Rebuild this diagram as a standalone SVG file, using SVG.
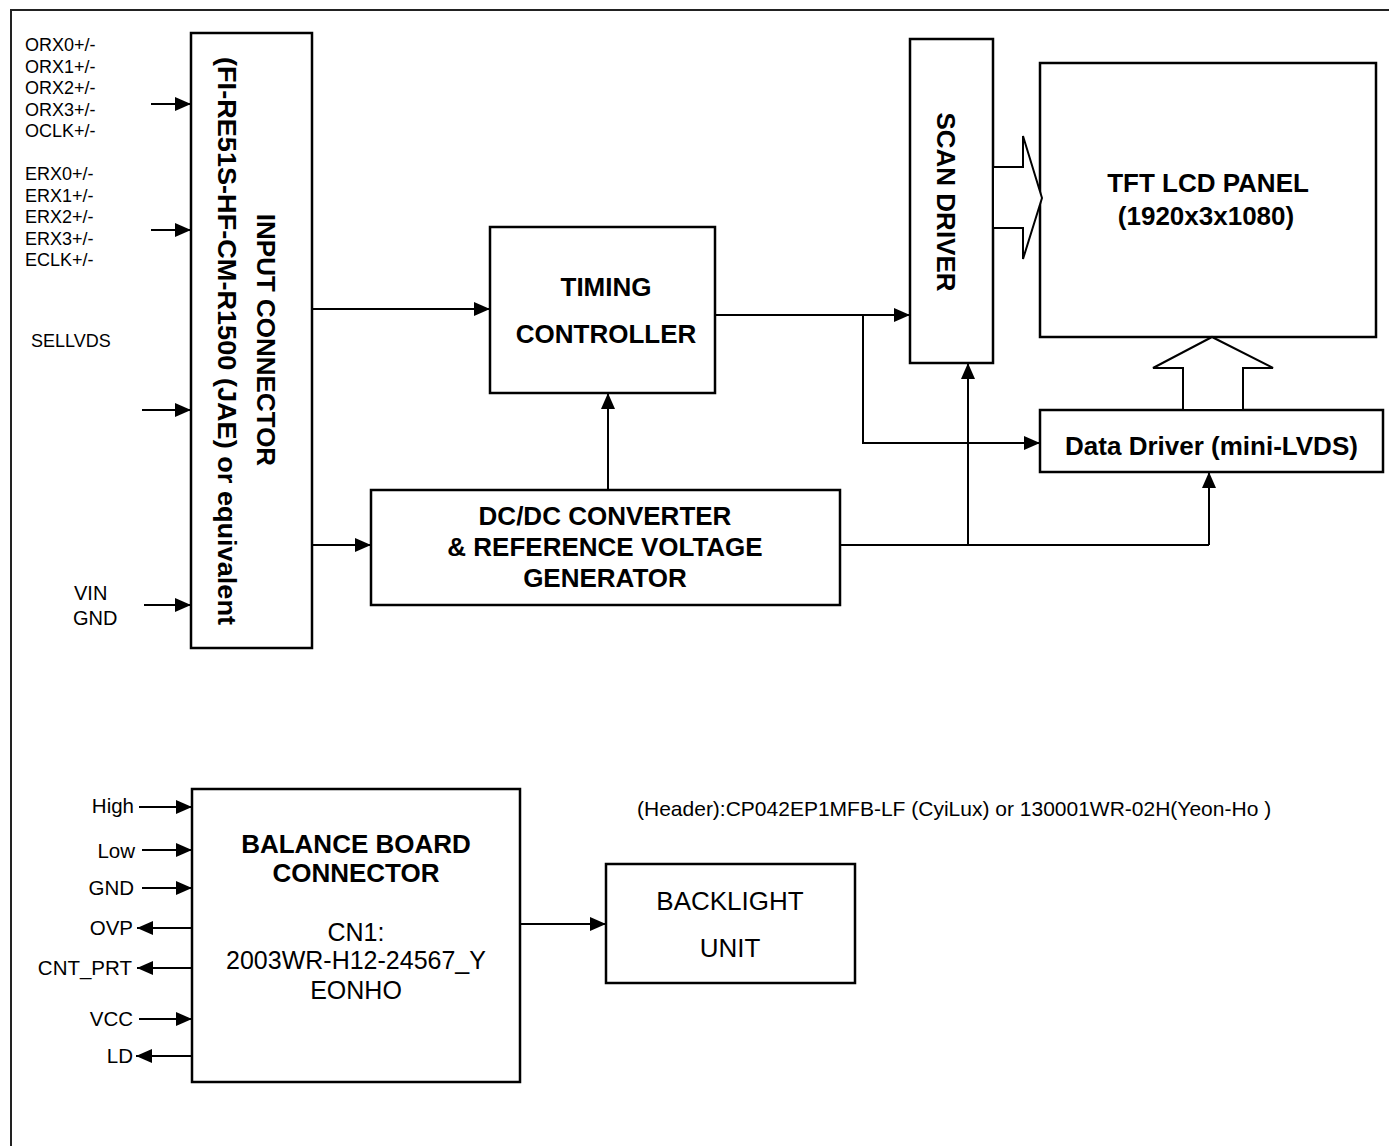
<svg xmlns="http://www.w3.org/2000/svg" width="1389" height="1146" viewBox="0 0 1389 1146">
<defs>
<marker id="ah" viewBox="0 0 16 14" refX="16" refY="7" markerWidth="16" markerHeight="14" orient="auto" markerUnits="userSpaceOnUse"><path d="M0,0 L16,7 L0,14 z" fill="#000"/></marker>
</defs>
<style>
.box{fill:#fff;stroke:#000;stroke-width:2.5}
.hollow{fill:#fff;stroke:#000;stroke-width:2}
.ln{fill:none;stroke:#000;stroke-width:2}
.ar{fill:none;stroke:#000;stroke-width:2;marker-end:url(#ah)}
.b{font-family:"Liberation Sans",Arial,Helvetica,sans-serif;font-weight:bold;font-size:26px;fill:#000}
.r{font-family:"Liberation Sans",Arial,Helvetica,sans-serif;font-size:26px;fill:#000}
.s{font-family:"Liberation Sans",Arial,Helvetica,sans-serif;font-size:18px;fill:#000}
.m{font-family:"Liberation Sans",Arial,Helvetica,sans-serif;font-size:20.5px;fill:#000}
.c{text-anchor:middle}
.e{text-anchor:end}
</style>
<rect width="1389" height="1146" fill="#fff"/>
<path d="M11,1146 V10 H1389" fill="none" stroke="#222" stroke-width="2"/>

<g id="input-labels">
<text class="s" x="25" y="51">ORX0+/-</text>
<text class="s" x="25" y="72.5">ORX1+/-</text>
<text class="s" x="25" y="94">ORX2+/-</text>
<text class="s" x="25" y="115.5">ORX3+/-</text>
<text class="s" x="25" y="137">OCLK+/-</text>
<text class="s" x="25" y="180">ERX0+/-</text>
<text class="s" x="25" y="201.5">ERX1+/-</text>
<text class="s" x="25" y="223">ERX2+/-</text>
<text class="s" x="25" y="244.5">ERX3+/-</text>
<text class="s" x="25" y="266">ECLK+/-</text>
<text class="s" x="31" y="347">SELLVDS</text>
<text class="m" x="74" y="600" style="font-size:20px">VIN</text>
<text class="m" x="73" y="625" style="font-size:20px">GND</text>
</g>

<g id="input-connector">
<rect class="box" x="191" y="33" width="121" height="615"/>
<text class="b c" transform="translate(257,340) rotate(90)">INPUT CONNECTOR</text>
<text class="b c" transform="translate(218,341) rotate(90)" textLength="568" lengthAdjust="spacingAndGlyphs">(FI-RE51S-HF-CM-R1500 (JAE) or equivalent</text>
</g>

<g id="timing-controller">
<rect class="box" x="490" y="227" width="225" height="166"/>
<text class="b c" x="606" y="296">TIMING</text>
<text class="b c" x="606" y="343">CONTROLLER</text>
</g>

<g id="dcdc-converter">
<rect class="box" x="371" y="490" width="469" height="115"/>
<text class="b c" x="605" y="525">DC/DC CONVERTER</text>
<text class="b c" x="605" y="556">&amp; REFERENCE VOLTAGE</text>
<text class="b c" x="605" y="587">GENERATOR</text>
</g>

<g id="scan-driver">
<rect class="box" x="910" y="39" width="83" height="324"/>
<text class="b c" transform="translate(937,202) rotate(90)">SCAN DRIVER</text>
</g>

<g id="tft-panel">
<rect class="box" x="1040" y="63" width="336" height="274"/>
<text class="b c" x="1208" y="192">TFT LCD PANEL</text>
<text class="b c" x="1206" y="225">(1920x3x1080)</text>
</g>

<g id="data-driver">
<rect class="box" x="1040" y="410" width="343" height="62"/>
<text class="b c" x="1211.5" y="455">Data Driver (mini-LVDS)</text>
</g>

<g id="balance-board">
<rect class="box" x="192" y="789" width="328" height="293"/>
<text class="b c" x="356" y="853">BALANCE BOARD</text>
<text class="b c" x="356" y="882">CONNECTOR</text>
<text class="r c" x="356" y="941" style="font-size:25px">CN1:</text>
<text class="r c" x="356" y="969" style="font-size:25px">2003WR-H12-24567_Y</text>
<text class="r c" x="356" y="999" style="font-size:25px">EONHO</text>
</g>

<g id="backlight-unit">
<rect class="box" x="606" y="864" width="249" height="119"/>
<text class="r c" x="730" y="910">BACKLIGHT</text>
<text class="r c" x="730" y="957">UNIT</text>
</g>

<g id="header-note">
<text class="m" x="637" y="816" style="font-size:21px">(Header):CP042EP1MFB-LF (CyiLux) or 130001WR-02H(Yeon-Ho )</text>
</g>

<g id="balance-labels">
<text class="m e" x="134" y="813">High</text>
<text class="m e" x="135" y="858">Low</text>
<text class="m e" x="134" y="895">GND</text>
<text class="m e" x="133" y="935">OVP</text>
<text class="m e" x="132" y="975">CNT_PRT</text>
<text class="m e" x="133" y="1026">VCC</text>
<text class="m e" x="133" y="1063">LD</text>
</g>

<g id="connectors">
<line class="ar" x1="151" y1="104" x2="191" y2="104"/>
<line class="ar" x1="151" y1="230" x2="191" y2="230"/>
<line class="ar" x1="142" y1="410" x2="191" y2="410"/>
<line class="ar" x1="144" y1="605" x2="191" y2="605"/>
<line class="ar" x1="312" y1="309" x2="490" y2="309"/>
<line class="ar" x1="312" y1="545" x2="371" y2="545"/>
<line class="ar" x1="608" y1="490" x2="608" y2="393"/>
<line class="ar" x1="715" y1="315" x2="910" y2="315"/>
<polyline class="ar" points="863,315 863,443 1040,443"/>
<polyline class="ln" points="840,545 1209,545"/>
<line class="ar" x1="968" y1="545" x2="968" y2="363"/>
<line class="ar" x1="1209" y1="545" x2="1209" y2="472"/>
<polygon class="hollow" points="993,167 1023,167 1023,136 1042,198 1023,259 1023,228 993,228"/>
<polygon class="hollow" points="1183,410 1183,368 1153,368 1212,337 1273,368 1243,368 1243,410"/>
<line class="ar" x1="139" y1="807" x2="192" y2="807"/>
<line class="ar" x1="142" y1="850" x2="192" y2="850"/>
<line class="ar" x1="142" y1="888" x2="192" y2="888"/>
<line class="ar" x1="192" y1="928" x2="137" y2="928"/>
<line class="ar" x1="192" y1="968" x2="137" y2="968"/>
<line class="ar" x1="139" y1="1019" x2="192" y2="1019"/>
<line class="ar" x1="192" y1="1056" x2="136" y2="1056"/>
<line class="ar" x1="520" y1="924" x2="606" y2="924"/>
</g>
</svg>
